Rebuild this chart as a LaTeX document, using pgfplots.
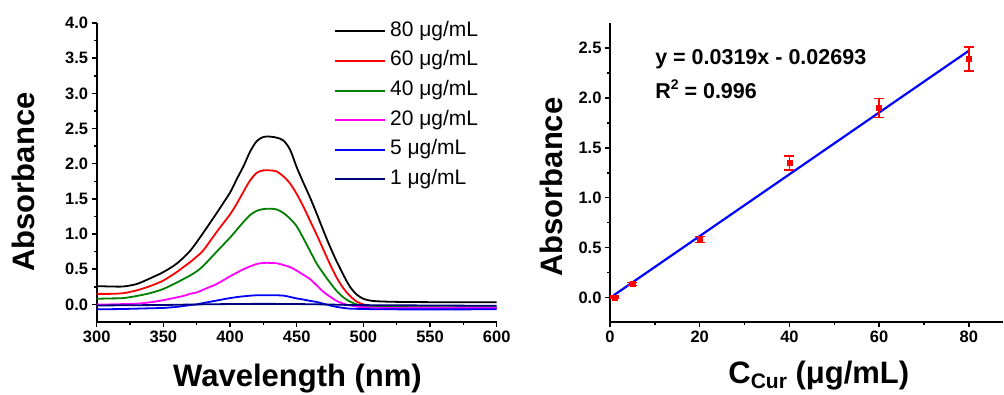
\documentclass[border=0pt]{standalone}
\usepackage{fontspec}
\setmainfont{Liberation Sans}
\usepackage{pgfplots}
\pgfplotsset{compat=1.18}
\definecolor{navyc}{RGB}{0,0,128}
\definecolor{grn}{rgb}{0,0.5,0}
\definecolor{magentac}{RGB}{255,0,255}
\pgfplotsset{
  origin/.style={
    scale only axis,
    axis x line*=bottom, axis y line*=left,
    axis line style={line width=1.8pt},
    tick align=outside,
    major tick length=5pt, minor tick length=3pt,
    every tick/.style={black, line width=1.5pt},
    tick label style={font=\fontsize{16.5}{18}\selectfont\bfseries},
    /pgf/number format/assume math mode=true,
    yticklabel style={/pgf/number format/.cd, fixed, fixed zerofill, precision=1},
  }
}
\begin{document}
\begin{tikzpicture}
\path[use as bounding box] (0,0) rectangle (1004pt,394pt);
\begin{axis}[origin,
  at={(96.7pt,72pt)}, anchor=south west,
  width=400pt, height=299pt,
  xmin=300, xmax=600, ymin=-0.25, ymax=4.0,
  xtick={300,350,...,600}, minor x tick num=1,
  ytick={0,0.5,...,4.0}, minor y tick num=1,
  xlabel={Wavelength (nm)}, ylabel={Absorbance},
  every axis x label/.style={at={(axis description cs:0.502,-0.217)}, anchor=base, font=\fontsize{31}{36}\selectfont\bfseries},
  every axis y label/.style={at={(axis description cs:-0.182,0.468)}, rotate=90, anchor=center, font=\fontsize{31}{36}\selectfont\bfseries},
  legend style={draw=none, fill=none, at={(axis description cs:0.588,1.013)}, anchor=north west,
    font=\fontsize{21}{24}\selectfont, row sep=9.6pt, column sep=5pt,
    nodes={inner sep=0pt, text height=15pt, text depth=5pt}},
  legend cell align=left,
  legend image code/.code={\path[#1, draw=none, fill] (0pt,-1pt) rectangle (50pt,1pt);},
]
\addplot[color=black, smooth, line width=1.8pt] coordinates {(300,0.26)(310,0.255)(320,0.255)(330,0.29)(340,0.37)(350,0.46)(360,0.58)(370,0.76)(380,1.02)(390,1.30)(400,1.59)(405,1.78)(410,1.96)(415,2.17)(420,2.32)(425,2.38)(430,2.385)(435,2.37)(440,2.33)(445,2.20)(450,1.95)(455,1.73)(460,1.52)(465,1.29)(470,1.05)(475,0.82)(480,0.61)(485,0.42)(490,0.25)(495,0.14)(500,0.08)(505,0.055)(510,0.045)(520,0.038)(530,0.035)(550,0.032)(575,0.03)(600,0.03)};
\addlegendentry{80 μg/mL}
\addplot[color=red, smooth, line width=1.8pt] coordinates {(300,0.15)(310,0.15)(320,0.16)(330,0.20)(340,0.26)(350,0.34)(360,0.46)(365,0.53)(370,0.60)(375,0.68)(380,0.77)(390,1.03)(400,1.28)(405,1.43)(410,1.60)(415,1.76)(420,1.87)(425,1.905)(430,1.905)(435,1.89)(440,1.82)(445,1.72)(450,1.57)(455,1.39)(460,1.19)(465,0.99)(470,0.78)(475,0.57)(480,0.38)(485,0.23)(490,0.12)(495,0.04)(500,0.0)(505,-0.02)(510,-0.03)(520,-0.04)(550,-0.045)(600,-0.05)};
\addlegendentry{60 μg/mL}
\addplot[color=grn, smooth, line width=1.8pt] coordinates {(300,0.08)(310,0.085)(320,0.09)(330,0.12)(340,0.16)(350,0.22)(360,0.31)(365,0.36)(370,0.41)(375,0.47)(380,0.55)(390,0.75)(400,0.95)(405,1.06)(410,1.17)(415,1.27)(420,1.33)(425,1.355)(430,1.36)(435,1.35)(440,1.30)(445,1.22)(450,1.11)(455,0.94)(460,0.76)(465,0.58)(470,0.44)(475,0.31)(480,0.19)(485,0.10)(490,0.04)(495,0.0)(500,-0.02)(510,-0.035)(550,-0.04)(600,-0.04)};
\addlegendentry{40 μg/mL}
\addplot[color=magentac, smooth, line width=1.8pt] coordinates {(300,0.0)(310,0.0)(320,0.005)(330,0.01)(340,0.03)(350,0.06)(360,0.10)(365,0.12)(370,0.15)(375,0.17)(380,0.21)(390,0.29)(400,0.40)(405,0.45)(410,0.50)(415,0.54)(420,0.575)(425,0.59)(430,0.59)(435,0.585)(440,0.56)(445,0.53)(450,0.48)(455,0.42)(460,0.36)(465,0.27)(470,0.18)(475,0.11)(480,0.05)(485,0.01)(490,-0.015)(495,-0.03)(500,-0.04)(520,-0.05)(600,-0.05)};
\addlegendentry{20 μg/mL}
\addplot[color=blue, smooth, line width=1.8pt] coordinates {(300,-0.07)(320,-0.065)(340,-0.055)(350,-0.05)(360,-0.035)(370,-0.01)(375,0.0)(380,0.02)(390,0.055)(400,0.09)(410,0.115)(420,0.13)(430,0.13)(440,0.125)(450,0.085)(455,0.07)(460,0.05)(465,0.035)(470,0.01)(475,-0.015)(480,-0.035)(485,-0.05)(490,-0.06)(500,-0.065)(520,-0.07)(600,-0.07)};
\addlegendentry{5 μg/mL}
\addplot[color=navyc, smooth, line width=1.8pt] coordinates {(300,-0.015)(350,-0.008)(375,0.0)(400,0.005)(425,0.008)(450,0.005)(470,0.0)(490,-0.008)(500,-0.01)(550,-0.015)(600,-0.02)};
\addlegendentry{1 μg/mL}
\end{axis}

\begin{axis}[origin,
  at={(610pt,71.7pt)}, anchor=south west,
  width=392.5pt, height=299pt,
  xmin=0, xmax=87.5, ymin=-0.25, ymax=2.75,
  xtick={0,20,...,80}, minor x tick num=1,
  ytick={0,0.5,...,2.5}, minor y tick num=1,
  xlabel={C\raisebox{-0.15em}{\fontsize{21}{24}\selectfont Cur} (μg/mL)}, ylabel={Absorbance},
  every axis x label/.style={at={(axis description cs:0.532,-0.205)}, anchor=base, font=\fontsize{31}{36}\selectfont\bfseries},
  every axis y label/.style={at={(axis description cs:-0.150,0.452)}, rotate=90, anchor=center, font=\fontsize{31}{36}\selectfont\bfseries},
]
\addplot[blue, line width=2.2pt] coordinates {(0.8,0.02)(80,2.475)};
\addplot[red, only marks, mark=square*, mark size=2.5pt,
  error bars/.cd, y dir=both, y explicit,
  error bar style={line width=1.8pt, red},
  error mark=|,
  error mark options={red, mark size=5pt, line width=1.8pt}]
  table[x=x, y=y, y error=e] {
x y e
1 0.0 0.01
5 0.135 0.015
20 0.58 0.03
40 1.35 0.07
60 1.90 0.095
80 2.39 0.12
};
\node[anchor=west, font=\fontsize{21.5}{24}\selectfont\bfseries] at (axis cs:9.3,2.39) {y = 0.0319x - 0.02693};
\node[anchor=west, font=\fontsize{21.5}{24}\selectfont\bfseries] at (axis cs:9.3,2.09) {R\raisebox{0.42em}{\fontsize{14}{16}\selectfont 2} = 0.996};
\end{axis}
\end{tikzpicture}
\end{document}
